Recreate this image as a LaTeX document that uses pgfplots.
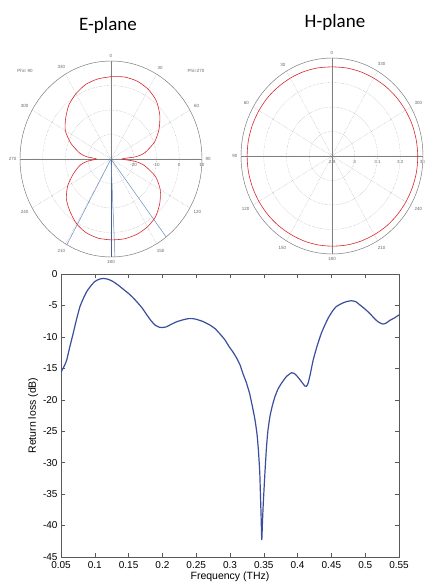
\documentclass[border=0pt]{standalone}
\usepackage{pgfplots}
\pgfplotsset{compat=1.18}
\usepackage{pgfplotstable}
\usepgfplotslibrary{polar}
\usepackage{fontspec}
\setmainfont{Liberation Sans}
\newfontfamily\calibri{Carlito}

\definecolor{rlblue}{HTML}{3A4E9C}
\definecolor{patred}{HTML}{D9262E}
\definecolor{beamblue}{HTML}{6A8BC4}
\definecolor{gridgray}{HTML}{9A9A9A}

% E-plane pattern: angle (deg, clockwise from top) and gain (dB)
\pgfplotstableread{
theta db
0 3.6
10 4.0
20 3.8
30 2.8
40 1.0
50 -2.0
60 -5.6
70 -9.6
80 -14.8
85 -18.8
90 -25.2
95 -19.6
100 -15.2
110 -9.2
120 -5.0
130 -2.0
140 0.6
150 2.0
160 2.8
170 3.1
180 3.0
190 2.8
200 2.0
210 0.4
220 -2.0
230 -4.4
240 -8.0
250 -12.4
260 -16.4
265 -19.6
270 -23.6
275 -19.2
280 -16.0
290 -11.2
300 -6.8
310 -4.0
320 -1.2
330 0.8
340 2.4
350 3.2
360 3.6
}\Eplane

% H-plane pattern: angle (deg, counterclockwise from top) and gain
\pgfplotstableread{
theta r
0 3.264
10 3.265
20 3.266
30 3.267
40 3.268
50 3.270
60 3.271
70 3.272
80 3.273
90 3.273
100 3.273
110 3.272
120 3.271
130 3.270
140 3.269
150 3.268
160 3.268
170 3.268
180 3.268
190 3.269
200 3.270
210 3.271
220 3.273
230 3.274
240 3.275
250 3.276
260 3.277
270 3.277
280 3.276
290 3.275
300 3.273
310 3.271
320 3.269
330 3.267
340 3.266
350 3.265
360 3.264
}\Hplane

% return loss (dB) against frequency (THz)
\pgfplotstableread{
f rl
0.05 -15.6
0.055 -14.6
0.0584 -13.7
0.063 -11.6
0.068 -9.45
0.073 -7.2
0.078 -5.2
0.083 -3.9
0.088 -2.8
0.094 -1.9
0.100 -1.2
0.106 -0.85
0.1126 -0.7
0.12 -0.85
0.127 -1.2
0.135 -1.8
0.143 -2.5
0.150 -3.1
0.156 -3.7
0.162 -4.4
0.170 -5.4
0.177 -6.5
0.183 -7.4
0.189 -8.1
0.195 -8.45
0.2 -8.5
0.206 -8.4
0.213 -8.0
0.221 -7.6
0.23 -7.3
0.238 -7.1
0.245 -7.1
0.25 -7.2
0.26 -7.55
0.27 -8.1
0.278 -8.7
0.2845 -9.45
0.292 -10.4
0.299 -11.6
0.305 -12.5
0.31 -13.4
0.315 -14.5
0.319 -15.8
0.324 -17.2
0.329 -19.0
0.333 -21.0
0.337 -23.2
0.340 -25.5
0.342 -28
0.344 -31.5
0.345 -34.9
0.346 -38.5
0.347 -42.3
0.348 -39.5
0.349 -37
0.35 -34.9
0.352 -31
0.354 -27.5
0.356 -25
0.359 -22.7
0.3625 -21
0.3665 -19.5
0.371 -18.3
0.376 -17.4
0.3835 -16.3
0.391 -15.7
0.395 -15.8
0.398 -16.1
0.402 -16.6
0.4056 -17.1
0.4106 -17.8
0.413 -17.85
0.4155 -17.4
0.419 -15.8
0.423 -13.7
0.429 -11.4
0.435 -9.45
0.44 -8.2
0.445 -7.06
0.451 -6.0
0.457 -5.2
0.465 -4.7
0.472 -4.4
0.4796 -4.25
0.486 -4.4
0.492 -4.9
0.5 -5.6
0.507 -6.3
0.513 -7.0
0.519 -7.6
0.526 -7.96
0.531 -7.8
0.536 -7.4
0.543 -7.0
0.55 -6.5
}\rloss

\pgfplotsset{
  polarplot/.style={
    anchor=center,
    scale only axis,
    axis equal=false, unit vector ratio={},
    width=182pt, height=196pt,
    ymin=0, ymax=40,
    xtick={0,30,...,330},
    grid=major,
    major grid style={gridgray, densely dotted, line width=0.35pt},
    axis line style={gray, line width=0.45pt},
    major tick length=0pt,
    tick label style={font=\fontsize{4.5}{5}\selectfont, text=gray!80!black},
    yticklabel style={anchor=north, yshift=-0.5pt},
  },
}

\begin{document}
\begin{tikzpicture}
\useasboundingbox (0pt,0pt) rectangle (425pt,584pt);

\node[font=\calibri\fontsize{19}{22}\selectfont] at (108pt,559pt) {E-plane};
\node[font=\calibri\fontsize{19}{22}\selectfont] at (335pt,562pt) {H-plane};

\begin{polaraxis}[polarplot, name=E, at={(111pt,425pt)},
    xticklabels={90,60,30,0,330,300,270,240,210,180,150,120},
    ytick={10,20,30,40}, yticklabels={-20,-10,0,10}]
\addplot[gray, line width=0.45pt] coordinates {(90,40) (270,40)};
\addplot[gray, line width=0.45pt] coordinates {(0,40) (180,40)};
\addplot[beamblue, line width=0.5pt] coordinates {(0,0) (-119,40)};
\addplot[beamblue, line width=0.5pt] coordinates {(0,0) (-52.7,40)};
\addplot[beamblue!70!black, line width=0.5pt] coordinates {(0,0) (-90,40)};
\addplot[beamblue, line width=0.5pt] coordinates {(0,0) (-87.5,40)};
\addplot[patred, line width=0.6pt, smooth, tension=0.4]
  table[x expr=90-\thisrow{theta}, y expr=\thisrow{db}+30] {\Eplane};
\end{polaraxis}
\node[font=\fontsize{4.5}{5}\selectfont, text=gray!80!black] at (25pt,513pt) {Phi= 90};
\node[font=\fontsize{4.5}{5}\selectfont, text=gray!80!black] at (196pt,513pt) {Phi=270};

\begin{polaraxis}[polarplot, name=H, at={(332pt,428pt)},
    xticklabels={{},300,330,0,30,60,90,120,150,180,210,240},
    ytick={0,10,20,30,40}, yticklabels={2.9,3,3.1,3.2,3.3}]
\addplot[gray, line width=0.45pt] coordinates {(90,40) (270,40)};
\addplot[gray, line width=0.45pt] coordinates {(0,40) (180,40)};
\addplot[patred, line width=0.6pt, smooth]
  table[x expr=90+\thisrow{theta}, y expr=(\thisrow{r}-2.9)*100] {\Hplane};
\end{polaraxis}

\begin{axis}[
    at={(61pt,27pt)}, anchor=south west,
    scale only axis, width=338pt, height=283pt,
    xmin=0.05, xmax=0.55, ymin=-45, ymax=0,
    xtick={0.05,0.1,0.15,0.2,0.25,0.3,0.35,0.4,0.45,0.5,0.55},
    xticklabels={0.05,0.1,0.15,0.2,0.25,0.3,0.35,0.4,0.45,0.5,0.55},
    ytick={-45,-40,-35,-30,-25,-20,-15,-10,-5,0},
    yticklabels={-45,-40,-35,-30,-25,-20,-15,-10,-5,0},
    tick align=inside, major tick length=4pt,
    axis line style={gray!70!black, line width=0.5pt},
    tick style={gray!70!black, line width=0.5pt},
    tick label style={font=\fontsize{10}{12}\selectfont},
    xticklabel style={yshift=-1pt},
    label style={font=\fontsize{10.5}{12}\selectfont},
    xlabel={Frequency (THz)}, ylabel={Return loss (dB)},
    xlabel style={yshift=4pt},
    ylabel style={yshift=-2pt},
]
\addplot[rlblue, line width=1.2pt, smooth, tension=0.3] table[x=f, y=rl] {\rloss};
\end{axis}
\end{tikzpicture}
\end{document}
